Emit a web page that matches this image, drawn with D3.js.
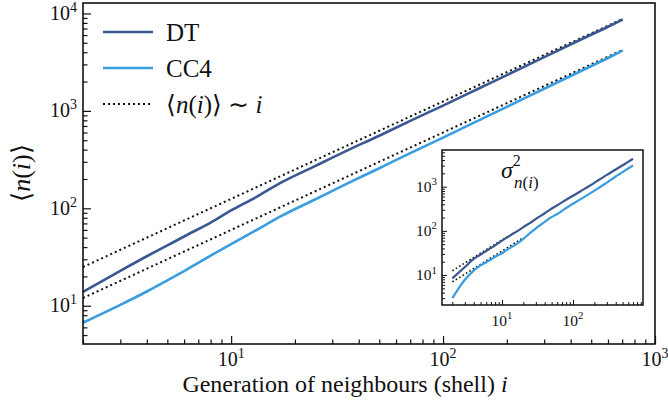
<!DOCTYPE html>
<html>
<head>
<meta charset="utf-8">
<script src="https://cdn.jsdelivr.net/npm/d3@7"></script>
<style>
  body { margin: 0; background: #fff; }
  svg { display: block; }
</style>
</head>
<body>
<div class="chart"></div>
<script>
// main panel: mean number of neighbours per shell
const shells = [2, 3, 4, 5, 6, 8, 10, 13, 17, 25, 35, 50, 70, 100, 150, 200, 300, 450, 600, 705];
const dtMean = [13.9, 22.8, 32.2, 41.6, 51.4, 71.3, 95, 129, 181, 273, 389, 556, 789, 1133, 1728, 2330, 3565, 5437, 7300, 8670];
const cc4Mean = [6.7, 10.2, 14.0, 18.2, 22.7, 32.6, 43, 58.9, 82, 124, 178, 258, 368, 532, 814, 1101, 1687, 2582, 3492, 4170];

// dotted guides <n(i)> ~ i
const guideShells = [2, 705];
const guideDT = [25, 8810];
const guideCC4 = [12, 4230];

// inset: variance per shell
const varShells = [2, 3, 4, 5, 6, 7, 8, 10, 12, 14, 16, 18, 20, 25, 30, 40, 47, 60, 80, 100, 130, 172, 220, 300, 400, 500, 600, 700];
const dtVar = [8.4, 15.2, 23.2, 29, 35, 41, 47, 60, 72, 85, 96, 108, 122, 152, 186, 250, 299, 380, 505, 625, 800, 1047, 1350, 1850, 2450, 3050, 3650, 4280];
const cc4Var = [3.0, 7.8, 12.6, 16.5, 19.5, 22.5, 26, 31, 38, 44, 50, 58, 66, 90, 114, 160, 194, 240, 330, 410, 530, 698, 890, 1240, 1700, 2130, 2580, 3030];
const varGuideDTShells = [2, 12];
const varGuideDT = [12.5, 75];
const varGuideCC4Shells = [2, 20];
const varGuideCC4 = [7, 70];

const seriesNames = ["DT", "CC4"];
const colors = { DT: "#3a5791", CC4: "#3a9de0" };
const serif = "'Liberation Serif', serif";

const width = 668, height = 412;
const svg = d3.select("div.chart").append("svg")
  .attr("width", width)
  .attr("height", height)
  .style("font-family", serif);

function minorValues(lo, hi) {
  let out = [];
  for (let e = Math.floor(Math.log10(lo)); e <= Math.ceil(Math.log10(hi)); e++) {
    for (let m = 2; m <= 9; m++) {
      let v = m * Math.pow(10, e);
      if (v >= lo && v <= hi) out.push(v);
    }
  }
  return out;
}

function powLabel(g, exp, size) {
  g.append("tspan").text("10");
  g.append("tspan").text(exp)
    .attr("font-size", size * 0.7)
    .attr("dy", -size * 0.42);
}

function drawPanel(opt) {
  const { x, y, g, major, minor, fontSize } = opt;
  const [x0, x1] = x.range();
  const [y0, y1] = y.range();

  g.append("rect")
    .attr("x", x0).attr("y", y1)
    .attr("width", x1 - x0).attr("height", y0 - y1)
    .attr("fill", "#fff");

  const xMajor = [10, 100, 1000].filter(v => v >= x.domain()[0] && v <= x.domain()[1]);
  const yMajor = [10, 100, 1000, 10000].filter(v => v >= y.domain()[0] && v <= y.domain()[1]);

  // inward ticks on bottom and left
  g.append("g").attr("transform", `translate(0,${y0})`)
    .call(d3.axisBottom(x).tickValues(xMajor).tickSize(-major).tickFormat(""))
    .call(a => a.select(".domain").remove());
  g.append("g").attr("transform", `translate(0,${y0})`)
    .call(d3.axisBottom(x).tickValues(minorValues(x.domain()[0], x.domain()[1])).tickSize(-minor).tickFormat(""))
    .call(a => a.select(".domain").remove());
  g.append("g").attr("transform", `translate(${x0},0)`)
    .call(d3.axisLeft(y).tickValues(yMajor).tickSize(-major).tickFormat(""))
    .call(a => a.select(".domain").remove());
  g.append("g").attr("transform", `translate(${x0},0)`)
    .call(d3.axisLeft(y).tickValues(minorValues(y.domain()[0], y.domain()[1])).tickSize(-minor).tickFormat(""))
    .call(a => a.select(".domain").remove());
  g.selectAll(".tick line").attr("stroke", "#111").attr("stroke-width", opt.tickWidth);

  xMajor.forEach(v => {
    let t = g.append("text")
      .attr("x", x(v)).attr("y", y0 + opt.xLabelGap)
      .attr("text-anchor", "middle")
      .style("font-family", serif)
      .attr("font-size", fontSize).attr("fill", "#111");
    powLabel(t, Math.round(Math.log10(v)), fontSize);
  });
  yMajor.forEach(v => {
    let t = g.append("text")
      .attr("x", x0 - opt.yLabelGap).attr("y", y(v) + fontSize * 0.33)
      .attr("text-anchor", "end")
      .style("font-family", serif)
      .attr("font-size", fontSize).attr("fill", "#111");
    powLabel(t, Math.round(Math.log10(v)), fontSize);
  });

  return () => g.append("rect")
    .attr("x", x0).attr("y", y1)
    .attr("width", x1 - x0).attr("height", y0 - y1)
    .attr("fill", "none")
    .attr("stroke", "#111")
    .attr("stroke-width", opt.frameWidth);
}

// ---- main panel
const x = d3.scaleLog().domain([2, 1000]).range([83, 655]);
const y = d3.scaleLog().domain([4.05, 12800]).range([344, 3]);
const main = svg.append("g");
const mainFrame = drawPanel({ x, y, g: main, major: 8, minor: 4.5, fontSize: 20, tickWidth: 1.2,
  xLabelGap: 22, yLabelGap: 6, frameWidth: 1.6 });

const line = d3.line().x(d => x(d[0])).y(d => y(d[1])).curve(d3.curveMonotoneX);

main.append("path")
  .attr("d", line(guideShells.map((s, k) => [s, guideDT[k]])))
  .attr("fill", "none").attr("stroke", "#111")
  .attr("stroke-width", 2).attr("stroke-dasharray", "2,3");
main.append("path")
  .attr("d", line(guideShells.map((s, k) => [s, guideCC4[k]])))
  .attr("fill", "none").attr("stroke", "#111")
  .attr("stroke-width", 2).attr("stroke-dasharray", "2,3");

[dtMean, cc4Mean].forEach((vals, k) => {
  main.append("path")
    .attr("d", line(shells.map((s, j) => [s, vals[j]])))
    .attr("fill", "none")
    .attr("stroke", colors[seriesNames[k]])
    .attr("stroke-width", 2.6);
});
mainFrame();

// legend
const legend = svg.append("g").attr("font-size", 25).attr("fill", "#111");
seriesNames.forEach((name, k) => {
  let ly = 32 + k * 36;
  legend.append("line")
    .attr("x1", 103).attr("x2", 153).attr("y1", ly).attr("y2", ly)
    .attr("stroke", colors[name]).attr("stroke-width", 2.6);
  legend.append("text").attr("x", 166).attr("y", ly + 9)
    .style("font-family", serif).text(name);
});
legend.append("line")
  .attr("x1", 103).attr("x2", 153).attr("y1", 104).attr("y2", 104)
  .attr("stroke", "#111").attr("stroke-width", 2).attr("stroke-dasharray", "2,3");
const guideText = legend.append("text").attr("x", 166).attr("y", 113).style("font-family", serif);
guideText.append("tspan").text("\u27E8");
guideText.append("tspan").text("n").attr("font-style", "italic");
guideText.append("tspan").text("(");
guideText.append("tspan").text("i").attr("font-style", "italic");
guideText.append("tspan").text(")\u27E9 \u223C ");
guideText.append("tspan").text("i").attr("font-style", "italic");

// axis titles
const xTitle = svg.append("text")
  .attr("x", 345).attr("y", 392)
  .style("font-family", serif)
  .attr("text-anchor", "middle").attr("font-size", 24).attr("fill", "#111");
xTitle.append("tspan").text("Generation of neighbours (shell) ");
xTitle.append("tspan").text("i").attr("font-style", "italic");

const yTitle = svg.append("text")
  .attr("transform", "translate(30,173) rotate(-90)")
  .style("font-family", serif)
  .attr("text-anchor", "middle").attr("font-size", 26).attr("fill", "#111");
yTitle.append("tspan").text("\u27E8");
yTitle.append("tspan").text("n").attr("font-style", "italic");
yTitle.append("tspan").text("(");
yTitle.append("tspan").text("i").attr("font-style", "italic");
yTitle.append("tspan").text(")\u27E9");

// ---- inset
const xi = d3.scaleLog().domain([1.43, 968]).range([442, 643]);
const yi = d3.scaleLog().domain([2.1, 6760]).range([305, 150]);
const inset = svg.append("g");
const insetFrame = drawPanel({ x: xi, y: yi, g: inset, major: 5, minor: 3, fontSize: 15.5, tickWidth: 1,
  xLabelGap: 21, yLabelGap: 5, frameWidth: 1.5 });

const lineI = d3.line().x(d => xi(d[0])).y(d => yi(d[1])).curve(d3.curveMonotoneX);
inset.append("path")
  .attr("d", lineI(varGuideDTShells.map((s, k) => [s, varGuideDT[k]])))
  .attr("fill", "none").attr("stroke", "#111")
  .attr("stroke-width", 1.6).attr("stroke-dasharray", "1.6,2.4");
inset.append("path")
  .attr("d", lineI(varGuideCC4Shells.map((s, k) => [s, varGuideCC4[k]])))
  .attr("fill", "none").attr("stroke", "#111")
  .attr("stroke-width", 1.6).attr("stroke-dasharray", "1.6,2.4");
[dtVar, cc4Var].forEach((vals, k) => {
  inset.append("path")
    .attr("d", lineI(varShells.map((s, j) => [s, vals[j]])))
    .attr("fill", "none")
    .attr("stroke", colors[seriesNames[k]])
    .attr("stroke-width", 2.2);
});
insetFrame();

const sigma = inset.append("text")
  .attr("x", 501).attr("y", 178)
  .style("font-family", serif)
  .attr("font-size", 24).attr("fill", "#111");
sigma.append("tspan").text("\u03C3").attr("font-style", "italic");
sigma.append("tspan").text("2").attr("font-size", 16).attr("dy", -12);
const sub = inset.append("text")
  .attr("x", 514).attr("y", 188)
  .style("font-family", serif)
  .attr("font-size", 17).attr("fill", "#111");
sub.append("tspan").text("n").attr("font-style", "italic");
sub.append("tspan").text("(");
sub.append("tspan").text("i").attr("font-style", "italic");
sub.append("tspan").text(")");
</script>
</body>
</html>
